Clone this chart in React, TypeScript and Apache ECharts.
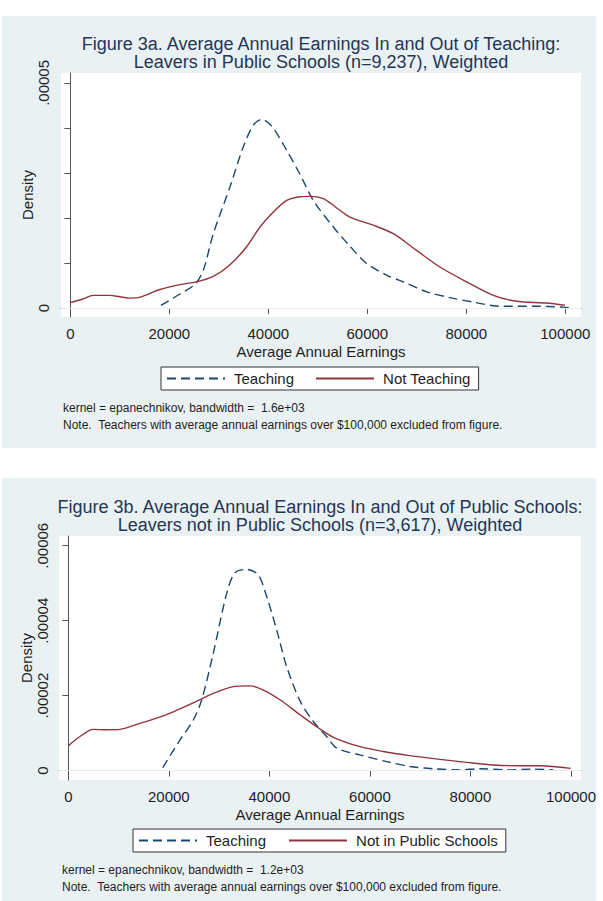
import React, { useEffect, useRef } from "react";
import * as echarts from "echarts";

// ---------- data ----------
const xTicks = [0, 20000, 40000, 60000, 80000, 100000];
const yTicksA = [0, 0.00001, 0.00002, 0.00003, 0.00004, 0.00005];
const yLabelsA = [0, 0.00005];
const yTicksB = [0, 0.00002, 0.00004, 0.00006];
const yLabelsB = [0, 0.00002, 0.00004, 0.00006];

// Figure 3a
const teachingA: [number, number][] = [
  [18300, 0.06e-5], [22000, 0.3e-5], [25200, 0.53e-5], [26870, 0.84e-5],
  [28890, 1.65e-5], [32260, 2.69e-5], [34950, 3.58e-5], [36970, 4.06e-5],
  [38670, 4.19e-5], [40690, 4.04e-5], [43720, 3.5e-5], [46400, 2.97e-5],
  [49090, 2.39e-5], [53130, 1.8e-5], [56500, 1.37e-5], [59870, 0.99e-5],
  [63910, 0.73e-5], [67270, 0.58e-5], [71990, 0.36e-5], [76710, 0.23e-5],
  [81420, 0.13e-5], [86810, 0.04e-5], [93470, 0.04e-5], [99530, 0.02e-5],
  [101300, 0.0],
];
const notTeachingA: [number, number][] = [
  [0, 0.12e-5], [2500, 0.2e-5], [4650, 0.28e-5], [8020, 0.28e-5],
  [10000, 0.25e-5], [12060, 0.22e-5], [14080, 0.24e-5], [18120, 0.41e-5],
  [22160, 0.52e-5], [25530, 0.58e-5], [28890, 0.7e-5], [32260, 0.96e-5],
  [35630, 1.36e-5], [38320, 1.8e-5], [41010, 2.13e-5], [43720, 2.39e-5],
  [46400, 2.47e-5], [48420, 2.48e-5], [51110, 2.43e-5], [53500, 2.25e-5],
  [56500, 2.02e-5], [61210, 1.84e-5], [65250, 1.65e-5], [69960, 1.28e-5],
  [74670, 0.91e-5], [80060, 0.58e-5], [85440, 0.28e-5], [90150, 0.15e-5],
  [96210, 0.11e-5], [99900, 0.06e-5],
];

// Figure 3b
const teachingB: [number, number][] = [
  [18780, 0.08e-5], [22220, 0.82e-5], [24870, 1.35e-5], [26540, 1.89e-5],
  [28840, 3.13e-5], [31510, 4.73e-5], [33160, 5.28e-5], [35490, 5.37e-5],
  [37800, 5.22e-5], [39470, 4.64e-5], [41460, 3.75e-5], [43450, 2.77e-5],
  [46090, 1.86e-5], [48740, 1.31e-5], [51400, 0.91e-5], [53390, 0.6e-5],
  [58030, 0.42e-5], [63340, 0.24e-5], [67970, 0.11e-5], [72610, 0.05e-5],
  [77920, 0.02e-5], [81900, 0.05e-5], [87210, 0.02e-5], [92500, 0.04e-5],
  [96480, 0.02e-5],
];
const notPublicB: [number, number][] = [
  [0, 0.66e-5], [2330, 0.91e-5], [4970, 1.1e-5], [7640, 1.09e-5],
  [10280, 1.1e-5], [14260, 1.26e-5], [17580, 1.4e-5], [20890, 1.57e-5],
  [24870, 1.81e-5], [28840, 2.06e-5], [32820, 2.24e-5], [36150, 2.26e-5],
  [38790, 2.15e-5], [42110, 1.89e-5], [46090, 1.49e-5], [49410, 1.17e-5],
  [52720, 0.89e-5], [58030, 0.64e-5], [62660, 0.51e-5], [67970, 0.4e-5],
  [73940, 0.3e-5], [79250, 0.22e-5], [84550, 0.15e-5], [89850, 0.13e-5],
  [93830, 0.13e-5], [99940, 0.06e-5],
];

const titleA1 = "Figure 3a. Average Annual Earnings In and Out of Teaching:";
const titleA2 = "Leavers in Public Schools (n=9,237), Weighted";
const titleB1 = "Figure 3b. Average Annual Earnings In and Out of Public Schools:";
const titleB2 = "Leavers not in Public Schools (n=3,617), Weighted";
const kernelA = "kernel = epanechnikov, bandwidth =  1.6e+03";
const kernelB = "kernel = epanechnikov, bandwidth =  1.2e+03";
const noteText = "Note.  Teachers with average annual earnings over $100,000 excluded from figure.";

// ---------- styles ----------
const FONT = '"Liberation Sans", Arial, Helvetica, sans-serif';
const NAVY = "#1a476f";
const MAROON = "#90353b";
const AXIS = "#555555";
const TEXT = "#1e1e1e";
const TITLE = "#243656";
const BG = "#eaf1f3";
const GRID = "#e4ecef";

const fmtX = (v: number) => String(Math.round(v));
const makeFmtY = (shown: number[]) => (v: number) => {
  if (!shown.some((s) => Math.abs(s - v) < 1e-9)) return "";
  return v === 0 ? "0" : v.toFixed(5).replace(/^0/, "");
};

function xAxisCfg(gridIndex: number, min: number, max: number) {
  return {
    type: "value",
    gridIndex,
    min,
    max,
    name: "Average Annual Earnings",
    nameLocation: "middle",
    nameGap: 27,
    nameMoveOverlap: false,
    nameTextStyle: { fontSize: 15, color: TEXT, fontFamily: FONT },
    axisLine: { show: true, lineStyle: { color: AXIS, width: 1 } },
    axisTick: { show: true, length: 6, customValues: xTicks, lineStyle: { color: AXIS } },
    axisLabel: { customValues: xTicks, fontSize: 15, color: TEXT, fontFamily: FONT, margin: 9, formatter: fmtX, hideOverlap: false },
    splitLine: { show: false },
  };
}

function yAxisCfg(gridIndex: number, min: number, max: number, ticks: number[], labels: number[], margin: number, nameGap: number) {
  return {
    type: "value",
    gridIndex,
    min,
    max,
    name: "Density",
    nameLocation: "middle",
    nameGap,
    nameMoveOverlap: false,
    nameTextStyle: { fontSize: 15, color: TEXT, fontFamily: FONT },
    axisLine: { show: true, lineStyle: { color: AXIS, width: 1 } },
    axisTick: { show: true, length: 6, customValues: ticks, lineStyle: { color: AXIS } },
    axisLabel: {
      customValues: ticks,
      rotate: 90,
      align: "center",
      verticalAlign: "bottom",
      fontSize: 15,
      color: TEXT,
      fontFamily: FONT,
      margin,
      hideOverlap: false,
      showMinLabel: true,
      showMaxLabel: true,
      formatter: makeFmtY(labels),
    },
    splitLine: { show: false },
  };
}

function gridLines(values: number[]) {
  return {
    silent: true,
    symbol: ["none", "none"],
    label: { show: false },
    lineStyle: { color: GRID, width: 1, type: "solid" },
    data: values.map((v) => ({ yAxis: v })),
  };
}

function txt(text: string, x: number, y: number, size: number, color: string, align: string) {
  return {
    type: "text",
    x,
    y,
    silent: true,
    style: {
      text,
      fontSize: size,
      fontFamily: FONT,
      fill: color,
      textAlign: align,
      align,
      textVerticalAlign: "middle",
      verticalAlign: "middle",
    },
  };
}

function legendCfg(left: number, top: number, data: string[], gap: number) {
  return {
    left,
    top,
    orient: "horizontal",
    data,
    selectedMode: false,
    itemWidth: 58,
    itemHeight: 14,
    itemGap: gap,
    padding: [4, 8, 4, 5],
    backgroundColor: "#ffffff",
    borderColor: "#333333",
    borderWidth: 1,
    borderRadius: 0,
    itemStyle: { opacity: 0, color: "rgba(0,0,0,0)", borderWidth: 0 },
    textStyle: { fontSize: 15, color: TEXT, fontFamily: FONT, padding: [0, 0, 0, 4] },
  };
}

export default function App() {
  const ref = useRef<HTMLDivElement>(null);

  useEffect(() => {
    if (!ref.current) return;
    const chart = echarts.init(ref.current, null, { renderer: "svg" });
    const dashed = { color: NAVY, width: 1.4, type: [9, 5] };
    const solid = { color: MAROON, width: 1.4, type: "solid" };
    chart.setOption({
      animation: false,
      textStyle: { fontFamily: FONT },
      grid: [
        { left: 61, top: 73, width: 520, height: 244, show: true, backgroundColor: "#ffffff", borderWidth: 0 },
        { left: 59, top: 536, width: 522, height: 244, show: true, backgroundColor: "#ffffff", borderWidth: 0 },
      ],
      xAxis: [xAxisCfg(0, -1880, 103170), xAxisCfg(1, -1850, 101990)],
      yAxis: [
        yAxisCfg(0, -0.000002, 0.0000522, yTicksA, yLabelsA, 10, 26),
        yAxisCfg(1, -0.0000025, 0.0000626, yTicksB, yLabelsB, 9, 25),
      ],
      legend: [
        legendCfg(161, 367, ["Teaching", "Not Teaching"], 21),
        legendCfg(133, 829, ["Teaching", "Not in Public Schools"], 22),
      ],
      graphic: [
        txt(titleA1, 321, 44, 18, TITLE, "center"),
        txt(titleA2, 321, 62, 18, TITLE, "center"),
        txt(kernelA, 63, 408, 12, TEXT, "left"),
        txt(noteText, 63, 425, 12, TEXT, "left"),
        txt(titleB1, 320, 506.5, 18, TITLE, "center"),
        txt(titleB2, 320, 524.5, 18, TITLE, "center"),
        txt(kernelB, 62, 870, 12, TEXT, "left"),
        txt(noteText, 62, 887, 12, TEXT, "left"),
      ],
      series: [
        {
          name: "Teaching",
          type: "line",
          xAxisIndex: 0,
          yAxisIndex: 0,
          data: teachingA,
          showSymbol: false,
          symbol: "none",
          smooth: 0.3,
          lineStyle: dashed,
          itemStyle: { color: NAVY },
          markLine: gridLines(yLabelsA),
          z: 3,
        },
        {
          name: "Not Teaching",
          type: "line",
          xAxisIndex: 0,
          yAxisIndex: 0,
          data: notTeachingA,
          showSymbol: false,
          symbol: "none",
          smooth: 0.3,
          lineStyle: solid,
          itemStyle: { color: MAROON },
          z: 3,
        },
        {
          name: "Teaching",
          type: "line",
          xAxisIndex: 1,
          yAxisIndex: 1,
          data: teachingB,
          showSymbol: false,
          symbol: "none",
          smooth: 0.3,
          lineStyle: dashed,
          itemStyle: { color: NAVY },
          markLine: gridLines(yLabelsB),
          z: 3,
        },
        {
          name: "Not in Public Schools",
          type: "line",
          xAxisIndex: 1,
          yAxisIndex: 1,
          data: notPublicB,
          showSymbol: false,
          symbol: "none",
          smooth: 0.3,
          lineStyle: solid,
          itemStyle: { color: MAROON },
          z: 3,
        },
      ],
    });
    return () => chart.dispose();
  }, []);

  return (
    <div style={{ position: "absolute", left: 0, top: 0, width: 603, height: 901, background: "#ffffff" }}>
      <div style={{ position: "absolute", left: 2, top: 16, width: 594, height: 432, background: BG }} />
      <div style={{ position: "absolute", left: 2, top: 478, width: 594, height: 423, background: BG }} />
      <div ref={ref} style={{ position: "absolute", left: 0, top: 0, width: 603, height: 901 }} />
    </div>
  );
}
